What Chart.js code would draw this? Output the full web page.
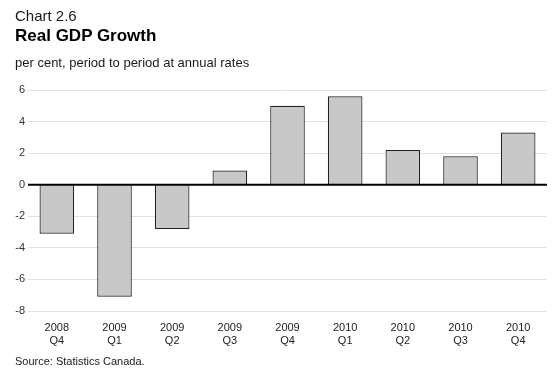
<!DOCTYPE html>
<html>
<head>
<meta charset="utf-8">
<script src="https://cdn.jsdelivr.net/npm/chart.js@4/dist/chart.umd.min.js"></script>
<style>
    html, body { margin: 0; padding: 0; background: #fff; }
    #wrap { position: relative; width: 560px; height: 376px; overflow: hidden; font-family: "Liberation Sans", Arial, sans-serif; color: #1a1a1a; }
    #wrap canvas { position: absolute; left: 0; top: 0; }
    .txt { position: absolute; left: 15px; white-space: nowrap; line-height: 1; }
    #num { top: 8px; font-size: 15px; }
    #title { top: 26.5px; font-size: 17px; font-weight: bold; color: #000; }
    #sub { top: 55.5px; font-size: 13px; }
    #src { top: 356px; font-size: 11px; }
</style>
</head>
<body>
<div id="wrap">
    <canvas id="gdpChart" width="560" height="376"></canvas>
    <div class="txt" id="num">Chart 2.6</div>
    <div class="txt" id="title">Real GDP Growth</div>
    <div class="txt" id="sub">per cent, period to period at annual rates</div>
    <div class="txt" id="src">Source: Statistics Canada.</div>
</div>
<script>
// Data
const years = ['2008', '2009', '2009', '2009', '2009', '2010', '2010', '2010', '2010'];
const quarters = ['Q4', 'Q1', 'Q2', 'Q3', 'Q4', 'Q1', 'Q2', 'Q3', 'Q4'];
const growth = [-3.1, -7.1, -2.8, 0.9, 5.0, 5.6, 2.2, 1.8, 3.3];
const yMin = -8;
const yMax = 6;
const yStep = 2;

const labels = years.map((y, i) => [y, quarters[i]]);

// Zero line drawn on top of the bars
const zeroLine = {
    id: 'zeroLine',
    afterDatasetsDraw(chart) {
        const { ctx, chartArea, scales } = chart;
        const y = scales.y.getPixelForValue(0);
        ctx.save();
        ctx.strokeStyle = '#000';
        ctx.lineWidth = 2;
        ctx.beginPath();
        ctx.moveTo(chartArea.left, y);
        ctx.lineTo(chartArea.right, y);
        ctx.stroke();
        ctx.restore();
    }
};

Chart.defaults.font.family = '"Liberation Sans", Arial, sans-serif';
Chart.defaults.font.size = 11;
Chart.defaults.color = '#333';

new Chart(document.getElementById('gdpChart').getContext('2d'), {
    type: 'bar',
    data: {
        labels: labels,
        datasets: [{
            data: growth,
            backgroundColor: '#c8c8c9',
            borderColor: '#222',
            borderWidth: 1.2,
            borderSkipped: 'start',
            barPercentage: 0.6,
            categoryPercentage: 1
        }]
    },
    options: {
        responsive: false,
        animation: false,
        layout: {
            padding: { top: 90, right: 13, bottom: 0, left: 0 }
        },
        plugins: {
            legend: { display: false },
            tooltip: { enabled: false }
        },
        scales: {
            x: {
                grid: { display: false },
                border: { display: false },
                ticks: { padding: 2, color: '#222', maxRotation: 0, autoSkip: false },
                afterFit: (scale) => { scale.height = 65; }
            },
            y: {
                min: yMin,
                max: yMax,
                grid: {
                    color: '#e2e2e2',
                    lineWidth: 1,
                    drawTicks: false
                },
                border: { display: false },
                ticks: { stepSize: yStep, padding: 3, color: '#333' },
                afterFit: (scale) => { scale.width = 28; }
            }
        }
    },
    plugins: [zeroLine]
});
</script>
</body>
</html>
